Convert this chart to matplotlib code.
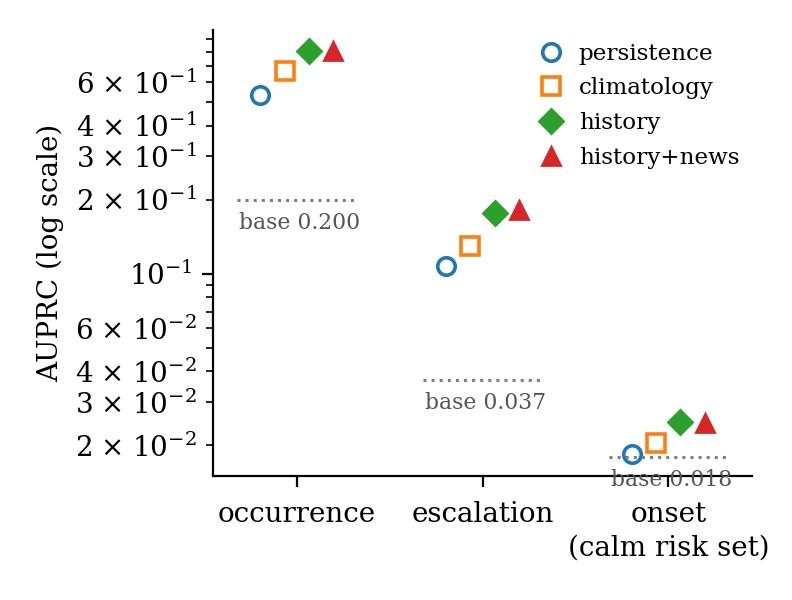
import matplotlib
matplotlib.use("Agg")
import matplotlib.pyplot as plt
from matplotlib.ticker import FuncFormatter
import numpy as np

categories = ["occurrence", "escalation", "onset\n(calm risk set)"]
models = ["persistence", "climatology", "history", "history+news"]
persistence = [0.531, 0.107, 0.0184]
climatology = [0.666, 0.129, 0.0205]
history = [0.807, 0.177, 0.0248]
history_news = [0.807, 0.182, 0.02455]
base_rates = [0.200, 0.037, 0.018]
base_labels = ["base 0.200", "base 0.037", "base 0.018"]
labelled_mantissas = [1, 2, 3, 4, 6]

plt.rcParams['font.family'] = ['DejaVu Serif']
plt.rcParams['mathtext.fontset'] = 'dejavuserif'
plt.rcParams['font.size'] = 10

fig, ax = plt.subplots(figsize=(3.96, 3.0), dpi=200)
fig.subplots_adjust(left=0.269, right=0.9495, top=0.95, bottom=0.2067)

x = np.arange(len(categories))
series = [persistence, climatology, history, history_news]
styles = [
    dict(marker='o', mfc='none', mec='tab:blue', mew=1.3, color='tab:blue'),
    dict(marker='s', mfc='none', mec='tab:orange', mew=1.3, color='tab:orange'),
    dict(marker='D', mfc='tab:green', mec='tab:green', color='tab:green'),
    dict(marker='^', mfc='tab:red', mec='tab:red', color='tab:red'),
]
offsets = [-0.195, -0.065, 0.065, 0.195]
for vals, st, off, name in zip(series, styles, offsets, models):
    ax.plot(x + off, vals, ls='none', ms=6.3, label=name, **st)

for xi, b, lab in zip(x, base_rates, base_labels):
    ax.hlines(b, xi - 0.32, xi + 0.32, colors='gray', linestyles=':', lw=1.1)
    ax.annotate(lab, (xi, b), xytext=(1, -4.5), textcoords='offset points',
                ha='center', va='top', fontsize=7.9, color='#555555')


def sci_label(v, pos):
    if v <= 0:
        return ""
    e = int(np.floor(np.log10(v) + 1e-9))
    m = int(round(v / 10.0 ** e))
    if m not in labelled_mantissas:
        return ""
    if m == 1:
        return r"$10^{%d}$" % e
    return r"$%d\hspace{0.11}\times\hspace{0.11}10^{%d}$" % (m, e)


ax.set_yscale('log')
ax.set_ylim(0.015, 0.98)
ax.yaxis.set_major_formatter(FuncFormatter(sci_label))
ax.yaxis.set_minor_formatter(FuncFormatter(sci_label))
ax.set_xlim(-0.45, 2.45)
ax.set_xticks(x)
ax.set_xticklabels(categories)
for lbl in ax.get_xticklabels():
    lbl.set_linespacing(1.3)
ax.tick_params(which='major', length=4)
ax.tick_params(which='minor', length=2.5)
ax.tick_params(axis='x', pad=5)
ax.set_ylabel("AUPRC (log scale)")
ax.spines['top'].set_visible(False)
ax.spines['right'].set_visible(False)
ax.legend(loc='upper right', frameon=False, fontsize=8.3, handletextpad=0.2,
          borderaxespad=0.15, labelspacing=0.55)

fig.savefig("out.png", dpi=200)
